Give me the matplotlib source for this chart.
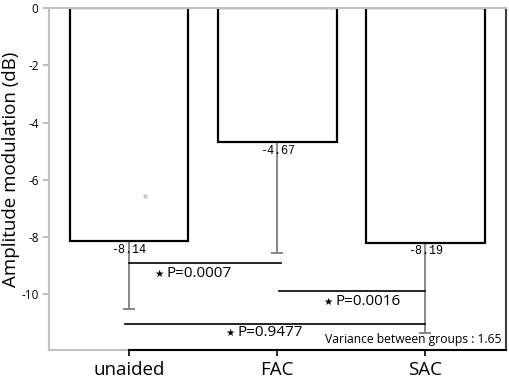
import matplotlib
matplotlib.use("Agg")
import matplotlib.pyplot as plt

plt.rcParams['axes.unicode_minus'] = False
plt.rcParams['font.family'] = ['Open Sans', 'DejaVu Sans']

groups = ["unaided", "FAC", "SAC"]
means = [-8.14, -4.67, -8.19]
err_low = [2.36, 3.88, 3.14]   # one-sided (downward) error bars
yticks = [0, -2, -4, -6, -8, -10]

# pairwise comparisons: (from group, to group, line level, p value)
pairs = [(0, 1, -8.91, "P=0.0007"),
         (1, 2, -9.88, "P=0.0016"),
         (0, 2, -11.02, "P=0.9477")]
variance_text = "Variance between groups : 1.65"
stray_point = (0.108, -6.56)

fig = plt.figure(figsize=(5.1, 3.81), dpi=100)
ax = fig.add_axes([0.0961, 0.0814, 0.896, 0.8976])

x = list(range(len(groups)))
ax.errorbar(x, means, yerr=[err_low, [0] * 3], fmt="none", ecolor="#7f7f7f",
            elinewidth=1.3, capsize=4, capthick=1.3, zorder=1)
ax.bar(x, means, width=0.8, color="white", edgecolor="black", linewidth=1.6, zorder=2)
ax.scatter([stray_point[0]], [stray_point[1]], s=5, color="#c8c8d8", zorder=3)

for xi, m in zip(x, means):
    ax.annotate("%.2f" % m, (xi, m), xytext=(0, -2), textcoords="offset points",
                ha="center", va="top", fontsize=8.5, family="Liberation Mono", zorder=4)

# significance lines + labels
ax.plot([0, 1.025], [pairs[0][2]] * 2, color="black", lw=1.2, zorder=3)
ax.plot([1.01, 2.0], [pairs[1][2]] * 2, color="black", lw=1.2, zorder=3)
ax.plot([-0.027, 2.0], [pairs[2][2]] * 2, color="black", lw=1.2, zorder=3)

label_pos = [(0.25, -9.28), (1.39, -10.26), (0.73, -11.34)]
for (a, b, lvl, p), (tx, ty) in zip(pairs, label_pos):
    ax.text(tx, ty, p, ha="left", va="center", fontsize=11)
    ax.annotate("\u2605", (tx, ty), xytext=(-2, 0), textcoords="offset points",
                ha="right", va="center", fontsize=7.5, family="DejaVu Sans")

ax.text(2.51, -11.59, variance_text, ha="right", va="center", fontsize=8.7)

ax.set_xlim(-0.54, 2.543)
ax.set_ylim(-11.94, 0)
ax.set_xticks(x)
ax.set_xticklabels(groups, fontsize=13.5)
ax.set_yticks(yticks)
ax.set_yticklabels([str(t) for t in yticks], fontsize=8.5)
ax.tick_params(axis="y", colors="#b0b0b0", labelcolor="black", length=4, width=1.2)
ax.tick_params(axis="x", color="black", length=4, width=1.2, pad=4)
ax.set_ylabel("Amplitude modulation (dB)", fontsize=13.5)
ax.yaxis.set_label_coords(-0.064, 0.528)

for side in ["left", "top", "bottom"]:
    ax.spines[side].set_color("#c0c0c0")
    ax.spines[side].set_linewidth(1.5)
ax.spines["right"].set_color("#404040")
ax.spines["right"].set_linewidth(1.5)
ax.plot([0, 2.543], [-11.94, -11.94], color="black", lw=1.5, clip_on=False, zorder=5)

fig.savefig("out.png", dpi=100)
